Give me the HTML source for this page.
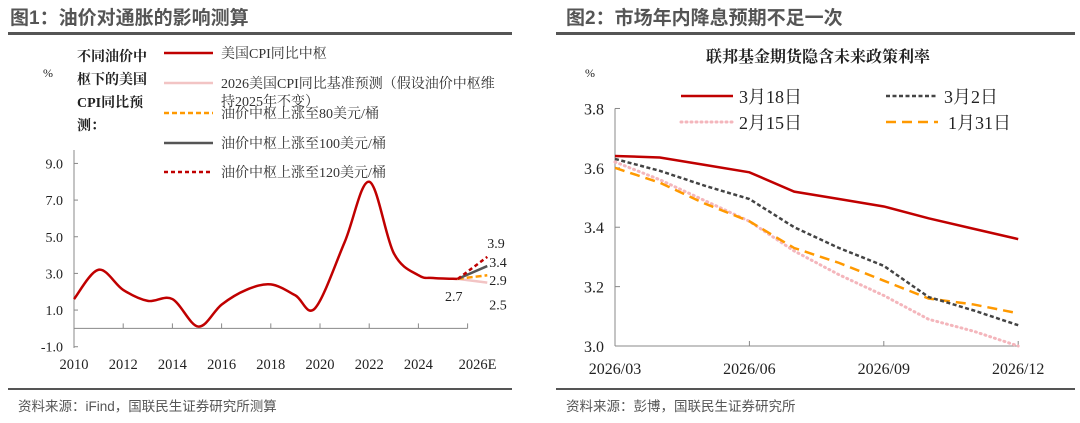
<!DOCTYPE html>
<html><head><meta charset="utf-8">
<style>
html,body{margin:0;padding:0;background:#fff;}
body{width:1080px;height:423px;overflow:hidden;position:relative;font-family:"Liberation Serif","Noto Serif CJK SC",serif;}
svg{position:absolute;left:0;top:0;}
</style></head>
<body>
<svg width="1080" height="423" xmlns="http://www.w3.org/2000/svg">
<g font-family="Liberation Sans, Noto Sans CJK SC, sans-serif">
<text x="10" y="24" font-size="19" font-weight="bold" fill="#555">图1：油价对通胀的影响测算</text>
<rect x="8" y="32" width="504" height="3" fill="#555"/>
<rect x="8" y="388" width="504" height="2" fill="#555"/>
<text x="18" y="411" font-size="13.5" fill="#555">资料来源：iFind，国联民生证券研究所测算</text>
<text x="566" y="24" font-size="19" font-weight="bold" fill="#555">图2：市场年内降息预期不足一次</text>
<rect x="556" y="32" width="519" height="3" fill="#555"/>
<rect x="556" y="388" width="519" height="2" fill="#555"/>
<text x="566" y="411" font-size="13.5" fill="#555">资料来源：彭博，国联民生证券研究所</text>
</g>
<g id="left"></g>
<g id="right"></g>
</svg>
<script>
const NS='http://www.w3.org/2000/svg';
function mk(parent,tag,attrs,text){const e=document.createElementNS(NS,tag);for(const k in attrs)e.setAttribute(k,attrs[k]);if(text!==undefined)e.textContent=text;parent.appendChild(e);return e;}

// ---- Left chart data ----
const cpiYears=[2010,2011,2012,2013,2014,2015.05,2016,2017,2018,2019,2019.8,2021,2022,2023,2024,2024.6,2025.6];
const cpiValues=[1.6,3.2,2.1,1.5,1.6,0.1,1.3,2.1,2.4,1.8,1.1,4.7,8.0,4.1,2.9,2.75,2.7];
const scenarioNames=['base','oil80','oil100','oil120'];
const scenarioEnd=[2.5,2.9,3.4,3.9];
const scenarioStart=2.7;
const scenarioYears=[2025.6,2026.8];
const leftYTicks=[-1,1,3,5,7,9];
const leftXTicks=[2010,2012,2014,2016,2018,2020,2022,2024,2026];
const leftXLabels=['2010','2012','2014','2016','2018','2020','2022','2024','2026E'];

const lx=y=>74+(y-2010)*24.6;
const ly=v=>328.4-v*18.33;
const L=document.getElementById('left');
let a=mk(L,'line',{x1:74,y1:150,x2:74,y2:348,stroke:'#888','stroke-width':1});

a=mk(L,'line',{x1:74,y1:ly(0),x2:lx(2026),y2:ly(0),stroke:'#888','stroke-width':1});

leftYTicks.forEach(t=>{
  const tk=mk(L,'line',{x1:74,y1:ly(t),x2:78,y2:ly(t),stroke:'#888'});
  
  const tx=mk(L,'text',{x:63,y:ly(t)+5,'font-size':14,'text-anchor':'end',fill:'#222'},t.toFixed(1));
  
});
leftXTicks.forEach((t,i)=>{
  const tk=mk(L,'line',{x1:lx(t),y1:ly(0),x2:lx(t),y2:ly(0)-5,stroke:'#888'});
  
  const tx=mk(L,'text',{x:lx(t)+(i==leftXTicks.length-1?10:0),y:369,'font-size':14.5,'text-anchor':'middle',fill:'#222'},leftXLabels[i]);
  
});
function smooth(pts){let d='M'+pts[0][0]+','+pts[0][1];for(let i=0;i<pts.length-1;i++){const p0=pts[Math.max(0,i-1)],p1=pts[i],p2=pts[i+1],p3=pts[Math.min(pts.length-1,i+2)];const c1=[p1[0]+(p2[0]-p0[0])/6,p1[1]+(p2[1]-p0[1])/6],c2=[p2[0]-(p3[0]-p1[0])/6,p2[1]-(p3[1]-p1[1])/6];d+=' C'+c1+' '+c2+' '+p2;}return d;}
const cpiPts=cpiYears.map((y,i)=>[lx(y),ly(cpiValues[i])]);
let p=mk(L,'path',{d:smooth(cpiPts),fill:'none',stroke:'#c00000','stroke-width':2.5});

const scStyles=[{c:'#f2c4c4',d:'',w:2.5},{c:'#ff9900',d:'6,3',w:2.5},{c:'#555',d:'',w:2.5},{c:'#c00000',d:'4,3',w:2.5}];
scenarioEnd.forEach((v,i)=>{
  const s=scStyles[i];
  const l=mk(L,'line',{x1:lx(scenarioYears[0]),y1:ly(scenarioStart),x2:lx(scenarioYears[1]),y2:ly(v),stroke:s.c,'stroke-width':s.w,'stroke-dasharray':s.d});
  
});
const lblOff=[[8,22],[8,5],[8,-4],[6,-14]];
scenarioEnd.forEach((v,i)=>{
  const t=mk(L,'text',{x:lx(scenarioYears[1])+lblOff[i][0]-6,y:ly(v)+lblOff[i][1]+5,'font-size':14,fill:'#222'},v.toFixed(1));
  
});
let t=mk(L,'text',{x:lx(scenarioYears[0])-4,y:ly(scenarioStart)+22,'font-size':14,'text-anchor':'middle',fill:'#222'},scenarioStart.toFixed(1));

t=mk(L,'text',{x:43,y:77,'font-size':12,fill:'#222'},'%');

['不同油价中','枢下的美国','CPI同比预','测：'].forEach((s,i)=>{
  const e=mk(L,'text',{x:77,y:61+i*23,'font-size':14,'font-weight':'bold',fill:'#222'},s);
  
});
const legL=[['美国CPI同比中枢','#c00000',''],['2026美国CPI同比基准预测（假设油价中枢维','#f2c4c4',''],['油价中枢上涨至80美元/桶','#ff9900','5,3'],['油价中枢上涨至100美元/桶','#555',''],['油价中枢上涨至120美元/桶','#c00000','4,3']];
const legY=[53,83,113,143,172];
legL.forEach((g,i)=>{
  const gr=mk(L,'g',{});
  
  mk(gr,'line',{x1:164,y1:legY[i],x2:213,y2:legY[i],stroke:g[1],'stroke-width':2.5,'stroke-dasharray':g[2]});
  mk(gr,'text',{x:221,y:legY[i]+5,'font-size':14,fill:'#333'},g[0]);
  if(i==1)mk(gr,'text',{x:221,y:legY[i]+23,'font-size':14,fill:'#333'},'持2025年不变）');
});

// ---- Right chart data ----
const months=['2026/03','2026/04','2026/05','2026/06','2026/07','2026/08','2026/09','2026/10','2026/11','2026/12'];
const mar18=[3.64,3.635,3.61,3.585,3.52,3.495,3.47,3.43,3.395,3.36];
const mar2=[3.63,3.59,3.54,3.495,3.40,3.33,3.27,3.165,3.12,3.07];
const feb15=[3.62,3.56,3.49,3.42,3.32,3.24,3.17,3.09,3.05,3.0];
const jan31=[3.60,3.55,3.48,3.42,3.33,3.28,3.22,3.16,3.14,3.11];
const rightYTicks=[3.0,3.2,3.4,3.6,3.8];
const rightXTickIdx=[0,3,6,9];

const rx=i=>615+i*44.8;
const ry=v=>346-(v-3.0)*296.9;
const R=document.getElementById('right');
a=mk(R,'line',{x1:615,y1:ry(3.8),x2:615,y2:ry(3.0),stroke:'#888'});

a=mk(R,'line',{x1:615,y1:ry(3.0),x2:rx(9),y2:ry(3.0),stroke:'#888'});

rightYTicks.forEach(v=>{
  const tk=mk(R,'line',{x1:615,y1:ry(v),x2:620,y2:ry(v),stroke:'#888'});
  
  const tx=mk(R,'text',{x:604,y:ry(v)+6,'font-size':16,'text-anchor':'end',fill:'#222'},v.toFixed(1));
  
});
rightXTickIdx.forEach(i=>{
  const tk=mk(R,'line',{x1:rx(i),y1:ry(3.0),x2:rx(i),y2:ry(3.0)-5,stroke:'#888'});
  
  const tx=mk(R,'text',{x:rx(i),y:374,'font-size':16,'text-anchor':'middle',fill:'#222'},months[i]);
  
});
const series=[['mar18',mar18,'#c00000','',2.5,'butt'],['mar2',mar2,'#444','4,2.5',2.5,'butt'],['feb15',feb15,'#f4b6bc','1,4',3,'round'],['jan31',jan31,'#ff9900','10,6',2.5,'butt']];
[series[2],series[3],series[1],series[0]].forEach(s=>{
  const pl=mk(R,'polyline',{points:s[1].map((v,i)=>rx(i)+','+ry(v)).join(' '),fill:'none',stroke:s[2],'stroke-width':s[4],'stroke-dasharray':s[3],'stroke-linecap':s[5]});
  
});
t=mk(R,'text',{x:818,y:62,'font-size':16,'font-weight':'bold','text-anchor':'middle',fill:'#222'},'联邦基金期货隐含未来政策利率');

t=mk(R,'text',{x:585,y:77,'font-size':12,fill:'#222'},'%');

const legR=[['3月18日',681,96,series[0]],['3月2日',886,96,series[1]],['2月15日',681,122,series[2]],['1月31日',886,122,series[3]]];
legR.forEach(g=>{
  const gr=mk(R,'g',{});
  
  const s=g[3];
  mk(gr,'line',{x1:g[1],y1:g[2],x2:g[1]+52,y2:g[2],stroke:s[2],'stroke-width':s[4],'stroke-dasharray':s[3],'stroke-linecap':s[5]});
  mk(gr,'text',{x:g[1]+(g[0]=='1月31日'?62:58),y:g[2]+7,'font-size':18,fill:'#222'},g[0]);
});
</script>
</body></html>
